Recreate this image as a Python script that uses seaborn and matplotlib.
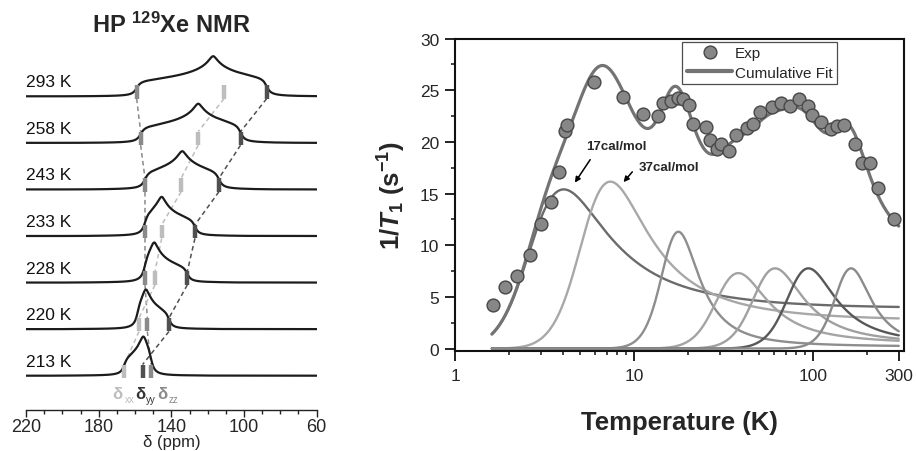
import numpy as np
import pandas as pd
import matplotlib
matplotlib.use("Agg")
import matplotlib.pyplot as plt
from matplotlib.lines import Line2D
from matplotlib.ticker import FixedLocator, NullFormatter, MultipleLocator
import seaborn as sns

sns.set_theme(style="ticks")
plt.rcParams["font.family"] = ["Liberation Sans", "DejaVu Sans"]
plt.rcParams["mathtext.fontset"] = "custom"
plt.rcParams["mathtext.rm"] = "Liberation Sans"
plt.rcParams["mathtext.it"] = "Liberation Sans:italic"
plt.rcParams["mathtext.bf"] = "Liberation Sans:bold"
plt.rcParams["mathtext.bfit"] = "Liberation Sans:bold:italic"
plt.rcParams["axes.unicode_minus"] = False

# ---------------- HP 129Xe spectra: chemical-shift tensor per temperature ----------------
temps_K = [213, 220, 228, 233, 243, 258, 293]
edge_high = [165.9, 158.5, 154.5, 154.5, 154.5, 156.9, 159.1]   # ppm
edge_peak = [155.4, 154.0, 149.4, 145.3, 134.0, 125.2, 117.0]   # ppm
edge_low = [151.2, 141.3, 131.2, 127.0, 113.8, 101.9, 87.5]     # ppm
line_width = [3.0, 3.0, 3.2, 3.2, 3.6, 3.6, 3.6]                # ppm, Lorentzian FWHM
peak_height = [0.84, 0.85, 0.86, 0.84, 0.82, 0.84, 0.86]

delta_xx = [165.9, 157.8, 149.0, 145.3, 134.6, 125.2, 111.0]
delta_yy = [155.8, 141.3, 131.2, 127.0, 113.8, 101.9, 87.5]
delta_zz = [151.2, 153.2, 154.5, 154.5, 154.5, 156.9, 159.1]

ppm_ticks = [220, 180, 140, 100, 60]

# ---------------- 129Xe relaxation rate vs temperature ----------------
T_exp = [1.62, 1.90, 2.22, 2.60, 3.02, 3.42, 3.78, 4.10, 4.19, 5.93, 8.6, 11.2,
         13.5, 14.4, 16.0, 17.6, 18.8, 20.2, 21.3, 25.0, 26.4, 28.8, 30.3, 34.0,
         37.1, 42.4, 46.2, 50.5, 59.0, 66.0, 73.8, 83.3, 93.1, 98.7, 110.0, 126.0,
         135.0, 147.5, 171.0, 188.0, 206.0, 230.0, 282.0]
R1_exp = [4.24, 5.92, 7.05, 9.05, 12.05, 14.2, 17.1, 21.05, 21.6, 25.8, 24.35, 22.65,
          22.5, 23.75, 23.95, 24.25, 24.1, 23.6, 21.73, 21.45, 20.2, 19.3, 19.8, 19.15,
          20.7, 21.35, 21.7, 22.85, 23.35, 23.8, 23.5, 24.1, 23.5, 22.55, 21.9, 21.25,
          21.55, 21.6, 19.8, 18.0, 18.0, 15.5, 12.5]

# BPP fit components: peak temperature (K), peak rate (s^-1), activation energy (cal/mol)
comp_Tpeak = [4.03, 7.34, 17.6, 38.1, 61.1, 93.8, 162.4]
comp_amp = [15.4, 16.15, 11.3, 7.3, 7.76, 7.76, 7.76]
comp_Ea = [17, 37, 169, 264, 437, 697, 1613]
comp_colors = ["#6b6b6b", "#a8a8a8", "#8e8e8e", "#a4a4a4", "#a0a0a0", "#585858", "#8b8b8b"]

T_ticks = [1, 10, 100, 300]
T_minor = [2, 3, 4, 5, 6, 7, 8, 9, 20, 30, 40, 50, 60, 70, 80, 90, 200]
R1_ticks = [0, 5, 10, 15, 20, 25, 30]


def powder_pattern(ppm, d11, d22, d33, fwhm):
    """Static CSA powder lineshape, Lorentzian-broadened."""
    n = 900
    u = (np.arange(n) + 0.5) / n
    phi = (np.arange(n) + 0.5) / n * (np.pi / 2)
    U, PHI = np.meshgrid(u, phi)
    s2 = 1.0 - U ** 2
    shift = d11 * s2 * np.cos(PHI) ** 2 + d22 * s2 * np.sin(PHI) ** 2 + d33 * U ** 2
    step = ppm[1] - ppm[0]
    edges = np.concatenate([ppm - step / 2, [ppm[-1] + step / 2]])
    hist, _ = np.histogram(shift.ravel(), bins=edges)
    k = np.arange(-400, 401) * step
    kern = (fwhm / 2) ** 2 / (k ** 2 + (fwhm / 2) ** 2)
    return np.convolve(hist.astype(float), kern, mode="same")


def bpp_rate(T, Tp, amp, Ea_cal):
    """Two-term BPP spectral density, scaled so the maximum equals amp at Tp."""
    E = Ea_cal / 1.987
    x0 = 0.6165
    x = x0 * np.exp(E * (1.0 / T - 1.0 / Tp))
    h = x / (1 + x ** 2) + 4 * x / (1 + 4 * x ** 2)
    h0 = x0 / (1 + x0 ** 2) + 4 * x0 / (1 + 4 * x0 ** 2)
    return amp * h / h0


fig = plt.figure(figsize=(9.16, 4.52), dpi=100)

# ======================= left panel =======================
axL = fig.add_axes([0.0284, 0.0907, 0.3173, 0.8208])
ppm_grid = np.round(np.arange(60.0, 220.0 + 1e-9, 0.1), 1)
frames = []
for i, (T, d1, d2, d3, w, h) in enumerate(zip(temps_K, edge_high, edge_peak, edge_low,
                                               line_width, peak_height)):
    s = powder_pattern(ppm_grid, d1, d2, d3, w)
    s = s - s.min()
    s = s / s.max() * h
    frames.append(pd.DataFrame({"ppm": ppm_grid, "y": s + i, "temp": T}))
spec_df = pd.concat(frames, ignore_index=True)
sns.lineplot(data=spec_df, x="ppm", y="y", units="temp", estimator=None, sort=False,
             color="#1c1c1c", lw=1.6, ax=axL, legend=False, zorder=3)

mk_lo, mk_hi = -0.05, 0.24
series = [(delta_zz, "#8a8a8a"), (delta_xx, "#bdbdbd"), (delta_yy, "#505050")]
base = np.arange(len(temps_K))
for vals, col in series:
    vals = np.asarray(vals)
    axL.vlines(vals, base + mk_lo, base + mk_hi, colors=col, lw=3.2, zorder=4)
    for k in range(len(vals) - 1, 0, -1):
        axL.plot([vals[k], vals[k - 1]], [base[k] + mk_lo, base[k - 1] + mk_hi],
                 ls=(0, (3, 2.2)), color=col, lw=1.1, zorder=2)

for i, T in enumerate(temps_K):
    axL.text(220, i + 0.31, f"{T} K", ha="left", va="center", fontsize=12.5, color="#111111")

# tensor component key under the 213 K trace
lab_y, sub_y = -0.47, -0.575
for (dpos, spos, sub, col) in [(172.3, 165.8, "xx", "#bdbdbd"),
                               (160.0, 153.7, "yy", "#333333"),
                               (148.0, 141.6, "zz", "#8a8a8a")]:
    axL.text(dpos, lab_y, "δ", ha="left", va="baseline", fontsize=12, fontweight="bold", color=col)
    axL.text(spos, sub_y, sub, ha="left", va="baseline", fontsize=7, color=col)

axL.set_xlim(220, 60)
axL.set_ylim(-0.737, 7.23)
axL.set_xticks(ppm_ticks)
axL.set_xticklabels([str(t) for t in ppm_ticks])
axL.xaxis.set_minor_locator(MultipleLocator(10))
axL.tick_params(axis="x", which="major", direction="out", length=5, width=1, pad=1,
                labelsize=13, color="#222222")
axL.tick_params(axis="x", which="minor", direction="out", length=3, width=1, color="#222222")
axL.set_yticks([])
for side in ["left", "top", "right"]:
    axL.spines[side].set_visible(False)
axL.spines["bottom"].set_linewidth(1.0)
axL.spines["bottom"].set_color("#222222")
axL.set_xlabel("δ (ppm)", fontsize=12, labelpad=-1)
axL.set_ylabel("")
fig.text(0.1867, 0.9447, r"HP $^{\mathbf{129}}$Xe NMR", ha="center", va="center",
         fontsize=17, fontweight="bold")

# ======================= right panel =======================
axR = fig.add_axes([0.4971, 0.2219, 0.4901, 0.6907])
T_fit = np.logspace(np.log10(1.6), np.log10(300), 600)
comp_frames = []
for j, (Tp, A, Ea) in enumerate(zip(comp_Tpeak, comp_amp, comp_Ea)):
    comp_frames.append(pd.DataFrame({"T": T_fit, "R1": bpp_rate(T_fit, Tp, A, Ea), "comp": j}))
comp_df = pd.concat(comp_frames, ignore_index=True)
for j, col in enumerate(comp_colors):
    sns.lineplot(data=comp_df[comp_df["comp"] == j], x="T", y="R1", estimator=None, sort=False,
                 color=col, lw=1.7, ax=axR, legend=False, zorder=2)
cum_df = comp_df.groupby("T", as_index=False)["R1"].sum()
sns.lineplot(data=cum_df, x="T", y="R1", estimator=None, color="#737373", lw=2.3, ax=axR,
             legend=False, zorder=3)
sns.scatterplot(x=T_exp, y=R1_exp, s=85, color="#878787", edgecolor="#474747", linewidth=1.0,
                ax=axR, zorder=5, legend=False)

axR.set_xscale("log")
axR.set_xlim(1, 322)
axR.set_ylim(-0.21, 30)
axR.xaxis.set_major_locator(FixedLocator(T_ticks))
axR.xaxis.set_minor_locator(FixedLocator(T_minor))
axR.xaxis.set_minor_formatter(NullFormatter())
axR.set_xticklabels([str(t) for t in T_ticks])
axR.set_yticks(R1_ticks)
axR.set_yticklabels([str(t) for t in R1_ticks])
axR.yaxis.set_minor_locator(MultipleLocator(2.5))
axR.tick_params(which="major", direction="out", length=7.5, width=1.3, labelsize=12.5,
                color="#111111")
axR.tick_params(axis="x", which="major", pad=5)
axR.tick_params(axis="y", which="major", pad=4)
axR.tick_params(which="minor", direction="out", length=3.2, width=1.1, color="#111111")
axR.tick_params(top=False, right=False, which="both")
for side in axR.spines:
    axR.spines[side].set_linewidth(1.5)
    axR.spines[side].set_color("#111111")

axR.set_xlabel("Temperature (K)", fontsize=18.5, fontweight="bold")
axR.xaxis.set_label_coords(0.5, -0.19)
axR.xaxis.label.set_va("top")
axR.set_ylabel(r"1/$\mathbfit{T}_{\mathbf{1}}$ (s$^{\mathbf{-1}}$)", fontsize=18.5, fontweight="bold")
axR.yaxis.set_label_coords(-0.105, 0.5)

axR.text(7.98, 19.63, "17cal/mol", ha="center", va="center", fontsize=9.5, fontweight="bold")
axR.annotate("", xy=(4.56, 15.83), xytext=(5.78, 18.5),
             arrowprops=dict(arrowstyle="-|>", color="black", lw=1.1, mutation_scale=8))
axR.text(15.67, 17.54, "37cal/mol", ha="center", va="center", fontsize=9.5, fontweight="bold")
axR.annotate("", xy=(8.5, 15.9), xytext=(9.97, 17.3),
             arrowprops=dict(arrowstyle="-|>", color="black", lw=1.1, mutation_scale=8))

handles = [Line2D([], [], ls="none", marker="o", markersize=9.2, markerfacecolor="#878787",
                  markeredgecolor="#474747", markeredgewidth=1.0),
           Line2D([], [], color="#737373", lw=3)]
leg = axR.legend(handles, ["Exp", "Cumulative Fit"], loc="upper left",
                 bbox_to_anchor=(0.505, 0.99), borderaxespad=0, fontsize=11,
                 frameon=True, fancybox=False, handlelength=3.0, handletextpad=0.15,
                 labelspacing=0.35, borderpad=0.3)
leg.get_frame().set_edgecolor("#222222")
leg.get_frame().set_linewidth(0.9)

fig.savefig("out.png", dpi=100, facecolor="white")
